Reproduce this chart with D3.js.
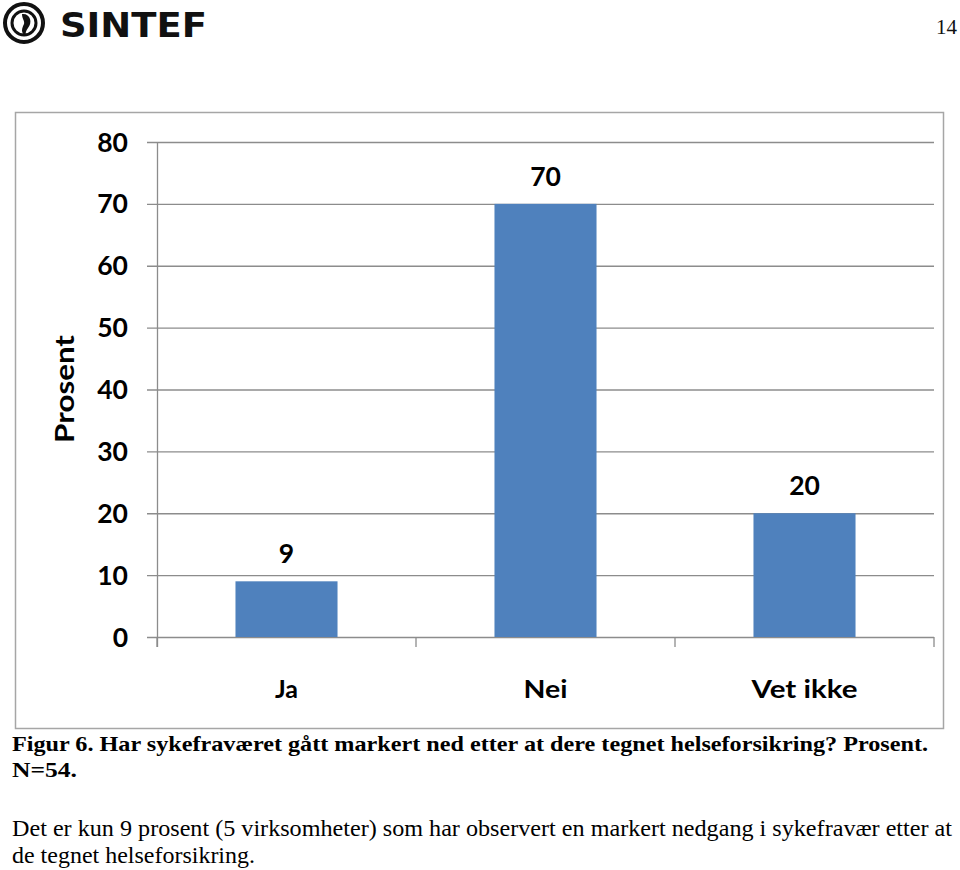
<!DOCTYPE html>
<html><head><meta charset="utf-8">
<script src="https://cdn.jsdelivr.net/npm/d3@7"></script>
<style>body{margin:0;background:#fff}svg{display:block}</style>
</head><body>
<script>
const categories = ["Ja", "Nei", "Vet ikke"];
const values = [9, 70, 20];
const yTicks = [0, 10, 20, 30, 40, 50, 60, 70, 80];

const W = 960, H = 870;
const svg = d3.select("body").append("svg").attr("width", W).attr("height", H);

// Header: logo + page number
const logo = svg.append("g");
logo.append("circle").attr("cx", 24).attr("cy", 23).attr("r", 19).attr("fill", "none").attr("stroke", "#111").attr("stroke-width", 4);
logo.append("circle").attr("cx", 24).attr("cy", 23).attr("r", 12).attr("fill", "none").attr("stroke", "#111").attr("stroke-width", 3);
logo.append("path").attr("d", "M22,14 C30,13 33,22 28,28 C26,31 25,33 26,36 C20,33 22,28 24,24 C25,21 22,19 22,14 Z").attr("fill", "#111");
logo.append("text").attr("x", 60).attr("y", 37).attr("font-family", "DejaVu Sans").attr("font-weight", "bold")
  .attr("font-size", 33).attr("textLength", 147).attr("lengthAdjust", "spacingAndGlyphs").attr("fill", "#111").text("SINTEF");
svg.append("text").attr("x", 957).attr("y", 34).attr("text-anchor", "end").attr("font-family", "Liberation Serif")
  .attr("font-size", 21).attr("fill", "#111").text("14");

// Chart box
svg.append("rect").attr("x", 15.5).attr("y", 112.5).attr("width", 928).attr("height", 616)
  .attr("fill", "#fff").attr("stroke", "#a6a6a6").attr("stroke-width", 1.5);

const pLeft = 157, pRight = 934, pTop = 142, pBottom = 637;
const x = d3.scaleBand().domain(categories).range([pLeft, pRight]).paddingInner(0.606).paddingOuter(0.303);
const xb = d3.scaleBand().domain(categories).range([pLeft, pRight]);
const y = d3.scaleLinear().domain([0, 80]).range([pBottom, pTop]);

const font = "Lato, 'Open Sans', sans-serif";
// grid lines
svg.append("g").selectAll("line").data(yTicks).join("line")
  .attr("x1", pLeft - 10).attr("x2", pRight).attr("y1", d => y(d) + 0.5).attr("y2", d => y(d) + 0.5)
  .attr("stroke", "#8c8c8c").attr("stroke-width", 1.3);
// y axis line
svg.append("line").attr("x1", pLeft + 0.5).attr("x2", pLeft + 0.5).attr("y1", pTop).attr("y2", pBottom + 10)
  .attr("stroke", "#8c8c8c").attr("stroke-width", 1.3);
// category ticks
svg.append("g").selectAll("line").data(categories.concat(["end"])).join("line")
  .attr("x1", (d, i) => i < 3 ? xb(d) : pRight).attr("x2", (d, i) => i < 3 ? xb(d) : pRight)
  .attr("y1", pBottom).attr("y2", pBottom + 10).attr("stroke", "#8c8c8c").attr("stroke-width", 1.3);

// y tick labels
svg.append("g").selectAll("text").data(yTicks).join("text")
  .attr("x", 128).attr("y", d => y(d) + 9.5).attr("text-anchor", "end")
  .attr("font-family", font).attr("font-weight", "bold").attr("font-size", 26.5).attr("fill", "#000").text(d => d);

// bars
svg.append("g").selectAll("rect").data(values).join("rect")
  .attr("x", (d, i) => x(categories[i])).attr("width", x.bandwidth())
  .attr("y", d => y(d)).attr("height", d => pBottom - y(d)).attr("fill", "#4F81BD");

// value labels
svg.append("g").selectAll("text").data(values).join("text")
  .attr("x", (d, i) => x(categories[i]) + x.bandwidth() / 2).attr("y", d => y(d) - 18)
  .attr("text-anchor", "middle").attr("font-family", font).attr("font-weight", "bold").attr("font-size", 26.5).attr("fill", "#000").text(d => d);

// category labels
const catWidths = [23, 44, 106];
svg.append("g").selectAll("text").data(categories).join("text")
  .attr("x", (d, i) => xb(d) + xb.bandwidth() / 2 - catWidths[i] / 2).attr("y", 698)
  .attr("textLength", (d, i) => catWidths[i]).attr("lengthAdjust", "spacingAndGlyphs")
  .attr("font-family", font).attr("font-weight", "bold").attr("font-size", 25).attr("fill", "#000").text(d => d);

// y axis title
svg.append("text").attr("transform", "translate(74,443) rotate(-90)")
  .attr("textLength", 108).attr("lengthAdjust", "spacingAndGlyphs")
  .attr("font-family", font).attr("font-weight", "bold").attr("font-size", 27).attr("fill", "#000").text("Prosent");

// caption
const serif = "Liberation Serif, 'Times New Roman', serif";
svg.append("text").attr("x", 12).attr("y", 751).attr("font-family", serif).attr("font-weight", "bold").attr("font-size", 22)
  .attr("textLength", 916).attr("lengthAdjust", "spacingAndGlyphs")
  .text("Figur 6. Har sykefraværet gått markert ned etter at dere tegnet helseforsikring? Prosent.");
svg.append("text").attr("x", 12).attr("y", 777).attr("font-family", serif).attr("font-weight", "bold").attr("font-size", 22)
  .attr("textLength", 65).attr("lengthAdjust", "spacingAndGlyphs").text("N=54.");
svg.append("text").attr("x", 12).attr("y", 836).attr("font-family", serif).attr("font-size", 23)
  .attr("textLength", 940).attr("lengthAdjust", "spacingAndGlyphs")
  .text("Det er kun 9 prosent (5 virksomheter) som har observert en markert nedgang i sykefravær etter at");
svg.append("text").attr("x", 12).attr("y", 863).attr("font-family", serif).attr("font-size", 23)
  .attr("textLength", 243).attr("lengthAdjust", "spacingAndGlyphs").text("de tegnet helseforsikring.");
</script>
</body></html>
